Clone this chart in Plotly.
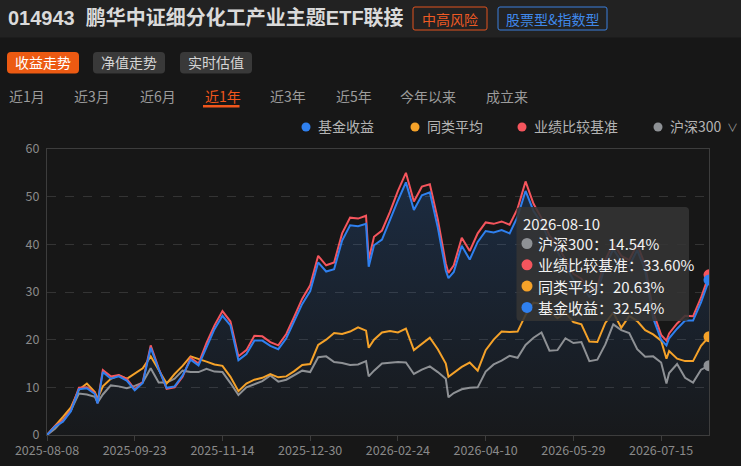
import plotly.graph_objects as go

# trading-day index of each sampled point (about one year of sessions),
# every third session plus a few sharp turning points
day_idx = sorted(list(range(0, 250, 3)) + [19, 121, 151, 233])
tick_idx = [0, 33, 66, 99, 132, 165, 198, 231]
tick_labels = ['2025-08-08', '2025-09-23', '2025-11-14', '2025-12-30',
               '2026-02-24', '2026-04-10', '2026-05-29', '2026-07-15']

# 基金收益 (%)
fund = [0, 1.8, 2.8, 5.0, 9.6, 9.8, 8.6, 6.6, 13.2, 11.8, 12.3, 11.4, 9.4,
        10.9, 18.3, 13.8, 9.9, 10.2, 12.5, 15.8, 14.6, 18.5, 22.2, 25.0, 23.0,
        15.7, 17.0, 19.8, 19.8, 18.7, 18.0, 20.3, 23.8, 27.5, 30.2, 36.2, 34.3,
        34.8, 40.8, 44.0, 43.8, 44.3, 35.3, 39.8, 41.0, 45.2, 49.2, 53.0, 47.2, 50.3,
        50.9, 43.5, 34.5, 32.9, 34.2, 39.7, 36.8, 40.5, 42.8, 42.5, 43.0, 42.3, 45.8,
        51.2, 47.0, 44.5, 40.5, 38.5, 35.5, 32.5, 31.5, 29.0, 30.0, 35.5, 39.0,
        36.5, 35.5, 38.8, 34.5, 24.5, 20.0, 18.8, 20.3, 22.3, 24.0, 24.0, 27.8, 32.54]
# 业绩比较基准 (%)
bench = [0, 1.9, 3.0, 5.2, 9.9, 10.0, 8.8, 6.7, 13.6, 12.3, 12.6, 11.8, 9.6,
         11.1, 18.8, 14.0, 9.7, 10.0, 12.2, 16.2, 15.0, 19.3, 23.0, 26.0, 23.8,
         16.5, 17.8, 20.8, 20.7, 19.5, 18.8, 21.2, 24.8, 28.6, 31.4, 37.6, 35.6,
         36.2, 42.3, 45.6, 45.4, 46.0, 36.8, 41.6, 42.9, 46.8, 51.2, 55.0, 49.0, 52.1,
         52.6, 45.2, 36.0, 34.0, 35.6, 41.4, 38.6, 42.3, 44.6, 44.3, 44.8, 44.1, 47.5,
         53.2, 48.5, 45.5, 41.8, 39.8, 36.8, 33.8, 32.8, 30.3, 31.2, 36.7, 40.2,
         37.6, 36.7, 40.0, 35.6, 25.8, 21.0, 19.8, 21.3, 23.4, 25.0, 24.9, 28.8, 33.60]
# 同类平均 (%)
peer = [0, 1.8, 3.8, 5.8, 9.5, 10.8, 9.0, 7.6, 10.2, 11.8, 12.5, 11.8, 12.9,
        14.0, 16.5, 13.5, 10.8, 12.8, 14.5, 16.5, 16.0, 15.4, 14.8, 14.5, 12.2,
        9.2, 10.8, 11.6, 12.0, 12.8, 12.1, 12.3, 13.4, 14.7, 14.9, 18.9, 20.0,
        21.4, 21.2, 21.7, 22.6, 21.9, 18.3, 20.0, 21.5, 21.8, 21.5, 22.3, 17.8, 19.2,
        20.4, 18.0, 15.0, 12.2, 13.0, 14.3, 15.2, 13.5, 17.8, 20.0, 21.7, 21.6, 21.7,
        25.2, 27.8, 27.5, 26.0, 24.5, 25.7, 23.7, 23.2, 19.6, 19.5, 23.5, 25.7,
        22.5, 25.0, 23.9, 22.0, 21.1, 19.8, 16.0, 17.6, 16.0, 15.5, 15.5, 18.7, 20.63]
# 沪深300 (%)
hs300 = [0, 1.3, 3.1, 5.2, 8.7, 8.5, 8.0, 6.8, 8.5, 10.4, 10.2, 9.8, 10.3,
         11.0, 14.0, 11.0, 11.0, 11.8, 13.5, 13.2, 13.2, 13.9, 13.3, 13.2, 10.9,
         8.4, 10.0, 10.7, 11.3, 12.5, 11.2, 11.6, 12.6, 13.5, 13.2, 16.3, 16.5,
         15.3, 15.1, 14.7, 14.8, 15.5, 12.3, 13.5, 15.0, 15.1, 15.3, 15.2, 12.8, 13.7,
         14.4, 13.2, 11.8, 7.9, 8.8, 9.6, 9.9, 10.0, 13.3, 14.8, 15.6, 16.6, 16.2,
         18.9, 20.4, 21.5, 17.7, 17.8, 20.3, 19.3, 19.5, 15.5, 15.8, 19.0, 23.2,
         22.0, 21.4, 18.0, 16.4, 16.5, 15.2, 10.8, 13.0, 14.9, 12.0, 11.0, 13.7, 14.54]

BLUE = '#2f80ef'
RED = '#f5555d'
ORANGE = '#f5a229'
GRAY = '#8e9195'
BG = '#171717'
FONT = 'Noto Sans CJK SC, Noto Sans, sans-serif'

W, H = 741, 466
L, R, T, B = 47, 32, 149, 31
PW, PH = W - L - R, H - T - B


def fx(px):
    return (px - L) / PW


def fy(py):
    return (H - B - py) / PH


def rrect(x0, y0, x1, y1, r=3):
    # rounded rectangle path in paper coords from pixel box
    a, b, c, d = fx(x0), fx(x1), fy(y0), fy(y1)
    rx, ry = r / PW, r / PH
    return (f'M{a+rx},{c} L{b-rx},{c} Q{b},{c} {b},{c-ry} L{b},{d+ry} Q{b},{d} {b-rx},{d} '
            f'L{a+rx},{d} Q{a},{d} {a},{d+ry} L{a},{c-ry} Q{a},{c} {a+rx},{c} Z')


def dot(cx, cy, r, color):
    return dict(type='circle', xref='paper', yref='paper', x0=fx(cx - r), x1=fx(cx + r),
                y0=fy(cy + r), y1=fy(cy - r), fillcolor=color, line=dict(width=0))


def label(px, py, text, size=14, color='#b8b8b8', anchor='left'):
    return dict(x=fx(px), y=fy(py), xref='paper', yref='paper', text=text, showarrow=False,
                xanchor=anchor, yanchor='middle', font=dict(size=size, color=color, family=FONT))


fig = go.Figure()

# gradient area under the fund line
fig.add_trace(go.Scatter(x=day_idx, y=fund, mode='lines', line=dict(width=0, color=BLUE),
                         fill='tozeroy',
                         fillgradient=dict(type='vertical', start=0, stop=55,
                                           colorscale=[[0, 'rgba(47,128,239,0.02)'],
                                                       [1, 'rgba(47,128,239,0.20)']]),
                         hoverinfo='skip', showlegend=False))

series = [('沪深300', hs300, GRAY), ('同类平均', peer, ORANGE),
          ('业绩比较基准', bench, RED), ('基金收益', fund, BLUE)]
for name, vals, col in series:
    fig.add_trace(go.Scatter(x=day_idx, y=vals, name=name, mode='lines',
                             line=dict(color=col, width=2), showlegend=False))
for name, vals, col in series:
    fig.add_trace(go.Scatter(x=[day_idx[-1]], y=[vals[-1]], mode='markers',
                             marker=dict(size=11, color=col), showlegend=False,
                             hoverinfo='skip'))

shapes = []
annos = []

# header band
shapes.append(dict(type='rect', xref='paper', yref='paper', x0=fx(0), x1=fx(W),
                   y0=fy(37.5), y1=fy(0), fillcolor='#222222', line=dict(width=0), layer='below'))
annos.append(dict(x=fx(6), y=fy(18), xref='paper', yref='paper', showarrow=False,
                  xanchor='left', yanchor='middle',
                  text='<b>014943\u00a0\u00a0鹏华中证细分化工产业主题ETF联接</b>',
                  font=dict(size=20, color='#dadada', family='Liberation Sans, ' + FONT)))
shapes.append(dict(type='path', xref='paper', yref='paper', path=rrect(413, 7, 487, 30, 2),
                   line=dict(color='#e0531f', width=1)))
annos.append(label(450, 18.5, '中高风险', 14, '#ee5a24', 'center'))
shapes.append(dict(type='path', xref='paper', yref='paper', path=rrect(498, 7, 607, 30, 2),
                   line=dict(color='#3a7fdc', width=1)))
annos.append(label(552.5, 18.5, '股票型&指数型', 14, '#3f88ea', 'center'))

# view buttons
buttons = [('收益走势', 7, 79, '#ec5a12', '#ffffff'),
           ('净值走势', 93, 165, '#393939', '#d4d4d4'),
           ('实时估值', 180, 252, '#393939', '#d4d4d4')]
for txt, x0, x1, fill, col in buttons:
    shapes.append(dict(type='path', xref='paper', yref='paper', path=rrect(x0, 52, x1, 73.5, 4),
                       fillcolor=fill, line=dict(width=0)))
    annos.append(label((x0 + x1) / 2, 62.5, txt, 14, col, 'center'))

# period tabs
tabs = [('近1月', 7), ('近3月', 72), ('近6月', 138), ('近1年', 203),
        ('近3年', 268), ('近5年', 334), ('今年以来', 398), ('成立来', 484)]
for txt, x in tabs:
    active = txt == '近1年'
    annos.append(label(x, 96, txt, 14, '#f0561c' if active else '#9c9c9c'))
shapes.append(dict(type='rect', xref='paper', yref='paper', x0=fx(203), x1=fx(239.5),
                   y0=fy(107.5), y1=fy(105), fillcolor='#f0561c', line=dict(width=0)))

# legend
legend_items = [('基金收益', BLUE, 306), ('同类平均', ORANGE, 415),
                ('业绩比较基准', RED, 522), ('沪深300', GRAY, 658)]
for txt, col, x in legend_items:
    shapes.append(dot(x, 127, 4.5, col))
    annos.append(label(x + 10, 126.5, txt, 14, '#b4b4b4'))
annos.append(label(725, 127, '∨', 11, '#9a9a9a'))

# tooltip box
shapes.append(dict(type='path', xref='paper', yref='paper', path=rrect(516.5, 207, 689, 321, 4),
                   fillcolor='rgba(52,52,52,0.88)', line=dict(width=0)))
annos.append(label(521, 223, '2026-08-10', 15, '#f2f2f2'))
tip_rows = [('沪深300', hs300, GRAY), ('业绩比较基准', bench, RED),
            ('同类平均', peer, ORANGE), ('基金收益', fund, BLUE)]
for k, (name, vals, col) in enumerate(tip_rows):
    yy = 243.5 + k * 21.3
    shapes.append(dot(527, yy, 5.5, col))
    annos.append(label(536, yy, f'{name}：{vals[-1]:.2f}%', 15, '#f2f2f2'))

fig.update_layout(
    width=W, height=H, autosize=False,
    margin=dict(l=L, r=R, t=T, b=B, autoexpand=False),
    paper_bgcolor=BG, plot_bgcolor=BG,
    font=dict(family=FONT, color='#8c8c8c'),
    shapes=shapes, annotations=annos,
    hovermode=False,
    xaxis=dict(range=[0, 249], tickvals=tick_idx, ticktext=tick_labels,
               showgrid=False, zeroline=False, showline=True, mirror=True,
               linecolor='#3d3d3d', ticks='outside', ticklen=5, tickcolor='#3d3d3d',
               tickfont=dict(size=12.5, color='#8a8a8a'), ticklabelstandoff=-1,
               automargin=False),
    yaxis=dict(range=[0, 60], dtick=10, showgrid=True, gridcolor='#343434', griddash='dash',
               zeroline=False, showline=True, mirror=True, linecolor='#3d3d3d',
               tickfont=dict(size=12.5, color='#8a8a8a'), ticklabelstandoff=4,
               automargin=False),
)

# page body margin off, so the figure sits at the window's corner
fig.write_html('out.html',
               config={'responsive': False, 'displayModeBar': False},
               post_script="document.body.style.margin='0';"
                           "document.body.style.background='#171717';")
